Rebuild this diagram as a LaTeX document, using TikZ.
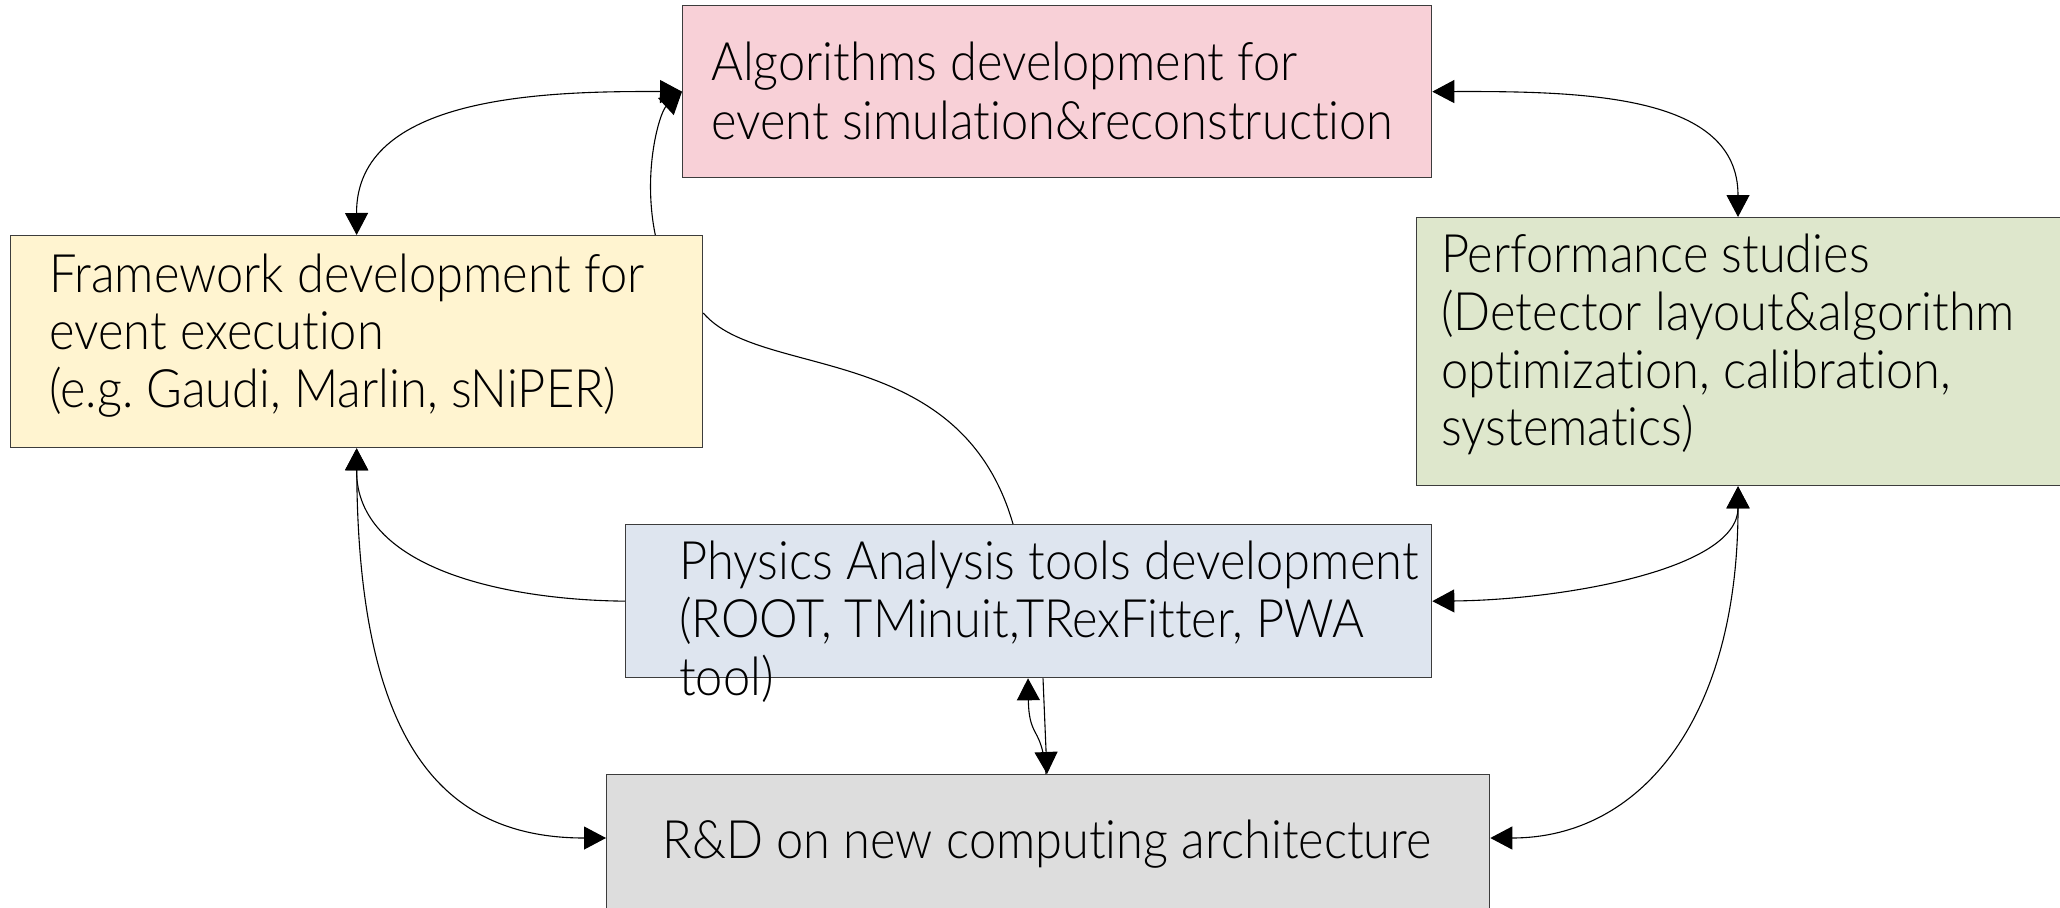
\documentclass[tikz,border=0pt]{standalone}
\usepackage{fontspec}
\setmainfont{Lato}[UprightFont=* Light, FakeStretch=0.92, Ligatures=NoCommon]
\usetikzlibrary{arrows.meta}
\definecolor{cpink}{RGB}{248,208,215}
\definecolor{cyellow}{RGB}{255,244,208}
\definecolor{cgreen}{RGB}{222,231,204}
\definecolor{cblue}{RGB}{222,229,239}
\definecolor{cgray}{RGB}{221,221,221}
\definecolor{cborder}{RGB}{60,60,60}
\tikzset{
  box/.style={draw=cborder, line width=1.3pt, inner sep=0pt, anchor=north west},
  lbl/.style={anchor=base west, inner sep=0pt, font=\fontsize{53}{58}\selectfont\frenchspacing},
  link/.style={line width=1.1pt, draw=black, >={Triangle[length=22pt,width=23pt]}},
}
\begin{document}
\begin{tikzpicture}[x=1pt,y=-1pt]
\useasboundingbox[fill=white] (0,0) rectangle (2060,907);
% boxes
\node[box, fill=cpink, minimum width=749pt, minimum height=172pt] (alg) at (682,5) {};
\node[box, fill=cyellow, minimum width=692pt, minimum height=212pt] (fw) at (10,235) {};
\node[box, fill=cgreen, minimum width=660pt, minimum height=268pt] (perf) at (1416,217) {};
\node[box, fill=cblue, minimum width=806pt, minimum height=153pt] (phys) at (625,524) {};
\node[box, fill=cgray, minimum width=883pt, minimum height=150pt] (rd) at (606,774) {};
% texts
\node[lbl] (t1) at (711,81) {Algorithms development for};
\node[lbl] (t2) at (711,139) {event simulation\&reconstruction};
\node[lbl] (t3) at (49,292) {Framework development for};
\node[lbl] (t4) at (49,349) {event execution};
\node[lbl] (t5) at (49,407) {(e.g. Gaudi, Marlin, sNiPER)};
\node[lbl] (t6) at (1441,272) {Performance studies};
\node[lbl] (t7) at (1441,330) {(Detector layout\&algorithm};
\node[lbl] (t8) at (1441,388) {optimization, calibration,};
\node[lbl] (t9) at (1441,445) {systematics)};
\node[lbl] (t10) at (679,579) {Physics Analysis tools development};
\node[lbl] (t11) at (679,637) {(ROOT, TMinuit,TRexFitter, PWA};
\node[lbl] (t12) at (679,695) {tool)};
\node[lbl, anchor=base] (t13) at (1047,858) {R\&D on new computing architecture};
% anchor points
\coordinate (fwtop) at ([xshift=-48pt]fw.north east);
\coordinate (fwright) at ([yshift=-78pt]fw.north east);
\coordinate (phystop) at ([xshift=388pt]phys.north west);
\coordinate (perftop) at ([xshift=322pt]perf.north west);
\coordinate (perfbot) at ([xshift=322pt]perf.south west);
\coordinate (rdleft) at ([yshift=-64pt]rd.north west);
\coordinate (rdright) at ([yshift=-64pt]rd.north east);
\coordinate (physbotA) at ([xshift=418pt]phys.south west);
\coordinate (physbotB) at ([xshift=403pt]phys.south west);
\coordinate (rdtopA) at ([xshift=441pt]rd.north west);
\coordinate (rdtopB) at ([xshift=440pt]rd.north west);
% connectors
\draw[link,<->] (alg.west) .. controls (543,91) and (356,96) .. (fw.north);
\draw[link,->] (fwtop) .. controls (642,170) and (660,112) .. (alg.west);
\draw[link,<->] (alg.east) .. controls (1590,91) and (1738,96) .. (perftop);
\draw[link] (fwright) .. controls (760,380) and (960,340) .. (phystop);
\draw[link,->] (phys.west) .. controls (504,600) and (356,568) .. (fw.south);
\draw[link,<->] (fw.south) .. controls (358,740) and (440,838) .. (rdleft);
\draw[link,<->] (perfbot) .. controls (1738,570) and (1560,600) .. (phys.east);
\draw[link,<->] (perfbot) .. controls (1738,720) and (1640,838) .. (rdright);
\draw[link,->] (physbotA) -- (rdtopA);
\draw[link,->] (rdtopB) .. controls (1042,725) and (1029,740) .. (physbotB);
\end{tikzpicture}
\end{document}
